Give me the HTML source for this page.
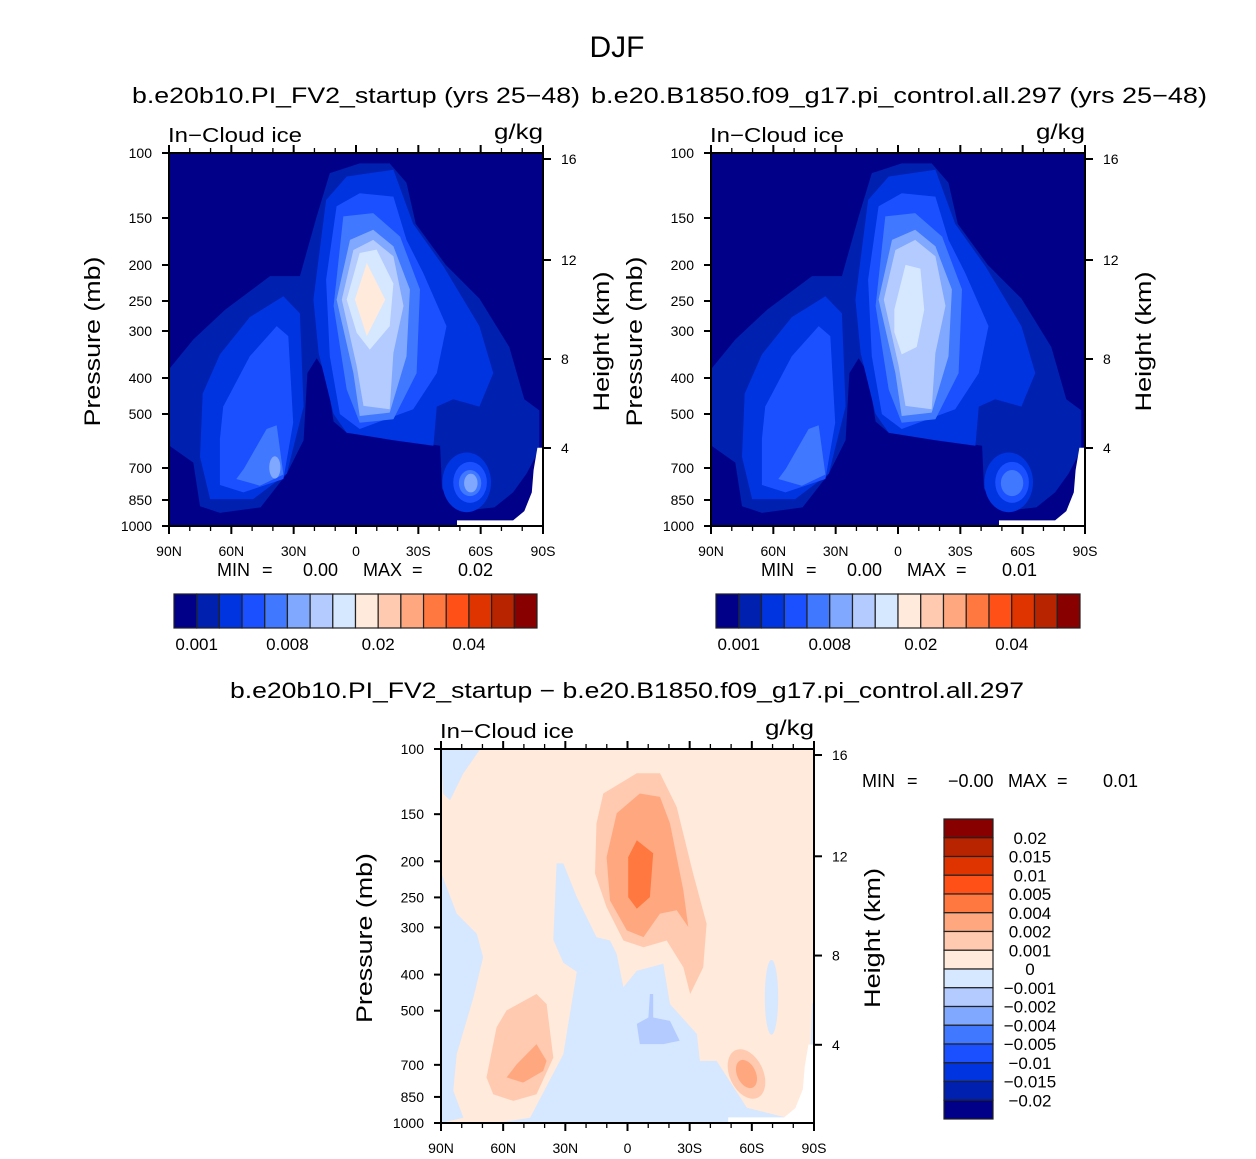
<!DOCTYPE html>
<html><head><meta charset="utf-8"><style>
body{margin:0;background:#fff;}
svg{display:block;font-family:"Liberation Sans","DejaVu Sans",sans-serif;}
</style></head><body>
<svg id="s" width="1256" height="1159" viewBox="0 0 1256 1159" xmlns="http://www.w3.org/2000/svg">
<text x="617" y="57" font-size="30" text-anchor="middle">DJF</text>
<text x="132" y="103" font-size="22" textLength="448" lengthAdjust="spacingAndGlyphs">b.e20b10.PI_FV2_startup (yrs 25−48)</text>
<text x="591" y="103" font-size="22" textLength="616" lengthAdjust="spacingAndGlyphs">b.e20.B1850.f09_g17.pi_control.all.297 (yrs 25−48)</text>
<text x="230" y="698" font-size="22" textLength="794" lengthAdjust="spacingAndGlyphs">b.e20b10.PI_FV2_startup − b.e20.B1850.f09_g17.pi_control.all.297</text>
</svg>
<script>
const NS='http://www.w3.org/2000/svg';
const svg=document.getElementById('s');
const palette=['#000088','#0020b0','#0034e0','#1a50ff','#4078ff','#80a8ff','#b4cbff','#d6e8ff','#ffeadb','#ffcab0','#ffa880','#ff7840','#ff5018','#e03400','#b82400','#880000'];
const topLabels=['0.001','0.008','0.02','0.04'];
const topLabelIdx=[1,5,9,13];
const diffLabels=['0.02','0.015','0.01','0.005','0.004','0.002','0.001','0','−0.001','−0.002','−0.004','−0.005','−0.01','−0.015','−0.02'];
const pLevels=[100,150,200,250,300,400,500,700,850,1000];
const pPix=[0,65,112,148,178,225,261,315,347,373];
const hLevels=[16,12,8,4];
const hPix=[6,107,206,295];
const latLabels=['90N','60N','30N','0','30S','60S','90S'];

function el(t,a,p){const e=document.createElementNS(NS,t);for(const k in a)e.setAttribute(k,a[k]);(p||svg).appendChild(e);return e;}
function poly(g,pts,fill,W,H){const e=el('polygon',{points:pts.map((v,i)=>(i%2?v*H/100:v*W/100).toFixed(1)).join(' '),fill:fill},g);return e;}

const L2=[0,58,6.5,50,15,42,27,33,35,33,39.5,17,43,5.4,51,2.8,59,2.8,63.5,8,66,19,74,30,83,39,91,52,95,66,99,69,99,79.5,95.6,86,92,91,87,95,78,96,73,90,72.5,78.5,69,78,60,76,47.5,75,44,72,42,59,39.5,55,37,59,36,77,31.5,86,24.5,95,13.6,96.5,8.3,94.7,6.5,83,0.3,78.6];
const L3a=[9,64.5,13.6,54,21.6,44,30.6,38.4,35,43,36,68,31.5,86,22.5,92.8,11,92.8,8.3,81.5];
const L3b=[38.6,39.3,42,12.6,47.5,6.3,60,4.5,65.3,19,73.4,30.4,83,46.4,86.7,59,83,68,76,66,71.6,68,70.7,78.5,60,77,47.5,75,44,70,40,53.6];
const L4a=[14.5,68,21.6,54.5,28.8,46.4,31.9,49.1,33.2,72.3,30.6,87.4,19.9,91,13.6,89,13.6,76.7];
const L4b=[42,34,44.8,14.3,51,10.8,60,11.7,63.5,23.3,68,32.2,74.2,46.4,71.6,59,65.3,68.7,51,74,45.7,70,43,54.5];
const L5a=[18,87.4,20,84.7,26.1,74,28.8,73,30.6,86.2,24.3,89.2];
const L5b=[44,41,46.6,17,54.6,16.1,61.8,22.4,67.1,36.6,66.2,59,60,71.4,51,72.3,47.5,63.4];
const L6b=[44.8,39.3,48.4,23.3,54.6,20.6,60,25,64.4,36.6,63.5,54.5,59,69.6,51,70.5,49.3,59];
const L7b=[46.2,39.3,49.3,26,54.6,23.3,60,27.7,62.7,41,60,53.6,59,68.7,52,67.8,50.2,57.1];
const L8b=[47.5,39.3,51,26.8,55.5,25.9,60,35,59,46.4,53.7,52.7,50.2,48.2];
const L9b=[49.7,39.3,52.9,29.5,57.8,39.3,52.9,49.1];
const corner=[98.5,79,100,79,100,100,77,100,77,98.5,92,98.5,95,96,97,91,97.5,85];

function topPlot(x0,y0,W,H,full){
  const g=el('g',{transform:`translate(${x0},${y0})`});
  
  
  el('rect',{x:0,y:0,width:W,height:H,fill:palette[0]},g);
  poly(g,L2,palette[1],W,H);
  poly(g,L3a,palette[2],W,H);poly(g,L3b,palette[2],W,H);
  el('ellipse',{cx:79.6*W/100,cy:88.3*H/100,rx:6.5*W/100,ry:8*H/100,fill:palette[2]},g);
  poly(g,L4a,palette[3],W,H);poly(g,L4b,palette[3],W,H);
  el('ellipse',{cx:80.5*W/100,cy:88.3*H/100,rx:4.5*W/100,ry:5.5*H/100,fill:palette[3]},g);
  poly(g,L5a,palette[4],W,H);poly(g,L5b,palette[4],W,H);
  el('ellipse',{cx:80.5*W/100,cy:88.5*H/100,rx:3*W/100,ry:3.5*H/100,fill:palette[4]},g);
  poly(g,L6b,palette[5],W,H);poly(g,L7b,palette[6],W,H);
  if(full){
    el('ellipse',{cx:28.3*W/100,cy:84.3*H/100,rx:1.5*W/100,ry:3*H/100,fill:palette[5]},g);
    el('ellipse',{cx:80.7*W/100,cy:88.5*H/100,rx:1.8*W/100,ry:2.5*H/100,fill:palette[5]},g);
    poly(g,L8b,palette[7],W,H);poly(g,L9b,palette[8],W,H);
  } else {
    poly(g,[49,42,52,30,56,31,57,42,55,52,51,54,49,48],palette[7],W,H);
  }
  poly(g,corner,'#fff',W,H);
}

function diffPlot(x0,y0,W,H){
  const g=el('g',{transform:`translate(${x0},${y0})`});
  
  
  el('rect',{x:0,y:0,width:W,height:H,fill:palette[8]},g);
  const lb='#d6e8ff';
  poly(g,[0,0,10.5,0,6,6.5,2.4,13.7,0.6,12],lb,W,H);
  poly(g,[0,33,4.2,44,9.6,49.4,11.3,55.7,8.7,66.4,4.2,81.6,3.3,91.4,6,98.6,0,100],lb,W,H);
  poly(g,[31,30.6,32.8,30.6,36.4,39.6,41.7,50.3,45.3,51.2,47.1,54.8,48.9,63.7,52.5,59.3,59.6,57.4,61.4,68.2,68.6,76.2,69.4,83.4,73.9,83.4,82,95.9,92.7,98.6,95.4,100,14.9,100,23.9,98.6,32.8,81.6,36.4,59.6,32.8,57.1,30.1,51],lb,W,H);
  el('ellipse',{cx:88.6*W/100,cy:66.4*H/100,rx:1.8*W/100,ry:10*H/100,fill:lb},g);
  poly(g,[99.5,68,100,68,100,82,99,82],lb,W,H);
  poly(g,[52.5,73.5,55.6,71.8,56,65.5,56.9,65.5,56.9,71.8,61.4,72.7,64,78,59.6,78.9,53.3,78.9],'#b4cbff',W,H);
  poly(g,[41.7,19.9,43.5,11.9,52.5,6.5,58.7,6.5,63.2,15.5,67.6,33.3,71.2,46.7,70.3,58.4,66.8,65.5,65,58.4,60.5,51.2,54.3,53,48.9,51.2,44.4,42.3,41.3,33.3],palette[9],W,H);
  poly(g,[12.2,87.8,14.9,74.4,17.6,69.9,25.6,65.5,28.3,68.2,30.1,82.5,25.6,92.3,19.4,94.1,14,92.3],palette[9],W,H);
  el('ellipse',{cx:81.9*W/100,cy:86.9*H/100,rx:4.5*W/100,ry:7*H/100,fill:palette[9],transform:`rotate(-25 ${81.9*W/100} ${86.9*H/100})`},g);
  poly(g,[44.4,28.9,47.1,17.2,53.3,11.9,58.7,12.8,61.4,19.9,65,37.8,66.3,47.6,63.2,43.1,58.7,44,54.3,50.3,49.8,48.5,45.3,40.5],palette[10],W,H);
  poly(g,[17.6,87.8,20.3,84.3,25.6,78.9,28.3,83.4,27.4,86.1,22,89.2],palette[10],W,H);
  el('ellipse',{cx:81.9*W/100,cy:86.9*H/100,rx:2.5*W/100,ry:4*H/100,fill:palette[10],transform:`rotate(-25 ${81.9*W/100} ${86.9*H/100})`},g);
  poly(g,[50.2,28.9,52.5,24.4,56.9,27.9,56,39.6,52.5,42.7,50.2,39.6],palette[11],W,H);
  poly(g,corner,'#fff',W,H);
}

function axes(x0,y0,W,H,pre){
  const g=el('g',{});
  
  
  el('rect',{x:x0,y:y0,width:W,height:H,fill:'none',stroke:'#000','stroke-width':2},g);
  for(let d=0;d<=18;d++){
    const x=x0+W*d/18, maj=d%3==0, L=maj?8:5;
    el('line',{x1:x,y1:y0+H,x2:x,y2:y0+H+L,stroke:'#000','stroke-width':maj?2:1.3},g);
    el('line',{x1:x,y1:y0,x2:x,y2:y0-L,stroke:'#000','stroke-width':maj?2:1.3},g);
  }
  latLabels.forEach((t,i)=>{const e=el('text',{x:x0+W*i/6,y:y0+H+30,'font-size':14,'text-anchor':'middle'},g);e.textContent=t;
    
    });
  pLevels.forEach((p,i)=>{const y=y0+pPix[i]*H/373;
    el('line',{x1:x0-7,y1:y,x2:x0,y2:y,stroke:'#000','stroke-width':2},g);
    const e=el('text',{x:x0-17,y:y+5,'font-size':14,'text-anchor':'end'},g);e.textContent=p;
    
    });
  hLevels.forEach((h,i)=>{const y=y0+hPix[i]*H/373;
    el('line',{x1:x0+W,y1:y,x2:x0+W+8,y2:y,stroke:'#000','stroke-width':2},g);
    const e=el('text',{x:x0+W+18,y:y+5,'font-size':14},g);e.textContent=h;
    
    });
  let t=el('text',{x:x0-1,y:y0-11,'font-size':20,textLength:134,lengthAdjust:'spacingAndGlyphs'},g);t.textContent='In−Cloud ice';
  
  
  t=el('text',{x:x0+W-49,y:y0-14,'font-size':21,textLength:49,lengthAdjust:'spacingAndGlyphs'},g);t.textContent='g/kg';
  
  
  const cy=y0+H*0.5;
  t=el('text',{x:-85,y:0,'font-size':22,textLength:170,lengthAdjust:'spacingAndGlyphs',transform:`translate(${x0-69},${cy+2}) rotate(-90)`},g);t.textContent='Pressure (mb)';
  
  
  t=el('text',{x:-70,y:0,'font-size':22,textLength:140,lengthAdjust:'spacingAndGlyphs',transform:`translate(${x0+W+66},${cy+2}) rotate(-90)`},g);t.textContent='Height (km)';
  
  
}

function hbar(x0,y0,W,H,name){
  const g=el('g',{});
  
  
  const bw=W/palette.length;
  palette.forEach((c,i)=>{el('rect',{x:x0+i*bw,y:y0,width:bw,height:H,fill:c,stroke:'#222','stroke-width':1.2},g);});
  topLabels.forEach((t,i)=>{const e=el('text',{x:x0+topLabelIdx[i]*bw,y:y0+H+22,'font-size':17,'text-anchor':'middle'},g);e.textContent=t;
    
    });
}

function minmax(x,y,mn,mx,name){
  const g=el('g',{'font-size':18});
  
  
  [['MIN',0],['=',45],[mn,86],['MAX',146],['=',195],[mx,241]].forEach(([t,dx])=>{const e=el('text',{x:x+dx,y:y},g);e.textContent=t;});
}

topPlot(169,153,374,373,true);axes(169,153,374,373,'left');
topPlot(711,153,374,373,false);axes(711,153,374,373,'right');
diffPlot(441,749,373,374);axes(441,749,373,374,'diff');
minmax(217,576,'0.00','0.02','left-min-max');
minmax(761,576,'0.00','0.01','right-min-max');
minmax(862,787,'−0.00','0.01','diff-min-max');
hbar(174,594,363,34,'left-colorbar');
hbar(716,594,364,34,'right-colorbar');
(function(){
  const g=el('g',{});
  
  
  const x0=944,y0=819,W=49,H=300,bh=H/16;
  palette.slice().reverse().forEach((c,i)=>{el('rect',{x:x0,y:y0+i*bh,width:W,height:bh,fill:c,stroke:'#222','stroke-width':1.2},g);});
  diffLabels.forEach((t,i)=>{const e=el('text',{x:1030,y:y0+(i+1)*bh+6,'font-size':17,'text-anchor':'middle'},g);e.textContent=t;
    
    });
})();
</script>
</body></html>
